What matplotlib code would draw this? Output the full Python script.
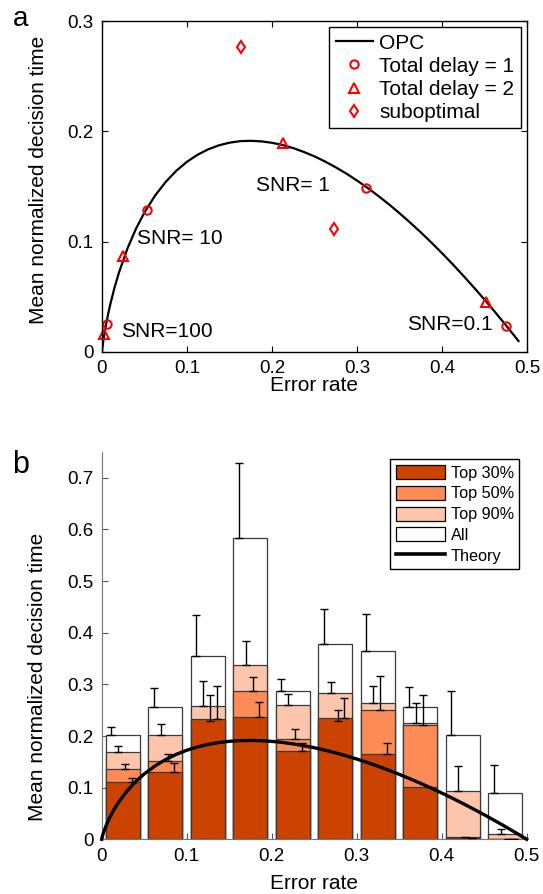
# Two-panel figure: optimal performance curve (a) and binned decision times (b).
import matplotlib
matplotlib.use("Agg")
import matplotlib.pyplot as plt
import numpy as np
from matplotlib.patches import Patch
from matplotlib.lines import Line2D

plt.rcParams["font.family"] = ["Liberation Sans", "DejaVu Sans"]

# Optimal performance curve.
opc_er = [0.0, 0.0005, 0.001, 0.002, 0.003, 0.005, 0.0075, 0.01, 0.015, 0.02, 0.03, 0.04,
          0.05, 0.0625, 0.075, 0.0875, 0.1, 0.1125, 0.125, 0.1375, 0.15, 0.1625, 0.175,
          0.1875, 0.2, 0.2125, 0.225, 0.2375, 0.25, 0.2625, 0.275, 0.2875, 0.3, 0.3125,
          0.325, 0.3375, 0.35, 0.3625, 0.375, 0.3875, 0.4, 0.4125, 0.425, 0.4375, 0.45,
          0.4625, 0.475, 0.485, 0.49]
opc_dt = [0.0, 0.0038, 0.0069, 0.0123, 0.0171, 0.0258, 0.0353, 0.0439, 0.059, 0.072,
          0.0939, 0.1117, 0.1265, 0.1418, 0.1542, 0.1643, 0.1724, 0.1788, 0.1837, 0.1873,
          0.1897, 0.1911, 0.1914, 0.1909, 0.1896, 0.1876, 0.1848, 0.1813, 0.1773, 0.1726,
          0.1674, 0.1617, 0.1554, 0.1487, 0.1415, 0.1339, 0.1258, 0.1173, 0.1085, 0.0992,
          0.0896, 0.0796, 0.0692, 0.0585, 0.0475, 0.0361, 0.0244, 0.0148, 0.0099]

# Panel a points.
delay1_er = [0.0055, 0.0524, 0.311, 0.4757]
delay1_dt = [0.0254, 0.129, 0.149, 0.0233]
delay2_er = [0.0023, 0.025, 0.2125, 0.452]
delay2_dt = [0.016, 0.087, 0.189, 0.0456]
subopt_er = [0.163, 0.273]
subopt_dt = [0.276, 0.1115]

snr_labels = ["SNR=100", "SNR= 10", "SNR= 1", "SNR=0.1"]
snr_x = [0.022, 0.041, 0.1815, 0.3584]
snr_y = [0.019, 0.103, 0.1508, 0.0245]

# Panel b bins.
bin_centers = [0.025, 0.075, 0.125, 0.175, 0.225, 0.275, 0.325, 0.375, 0.425, 0.475]
dt_all = [0.201, 0.256, 0.354, 0.5825, 0.2866, 0.379, 0.365, 0.2556, 0.202, 0.0893]
dt_top90 = [0.170, 0.201, 0.258, 0.337, 0.260, 0.2828, 0.2633, 0.2258, 0.0938, 0.0097]
dt_top50 = [0.136, 0.1507, 0.229, 0.2866, 0.194, 0.229, 0.251, 0.2213, 0.004, 0.001]
dt_top30 = [0.1107, 0.130, 0.232, 0.2361, 0.1715, 0.2355, 0.165, 0.101, 0.003, 0.0005]
err_all = [0.0157, 0.0375, 0.0796, 0.1463, 0.0234, 0.0676, 0.0705, 0.0395, 0.0846, 0.0537]
err_top90 = [0.011, 0.023, 0.048, 0.0475, 0.0208, 0.0212, 0.033, 0.0375, 0.0479, 0.0097]
err_top50 = [0.010, 0.0149, 0.050, 0.028, 0.0196, 0.021, 0.0655, 0.0587, np.nan, np.nan]
err_top30 = [0.0083, 0.0187, 0.064, 0.0292, 0.0149, 0.0383, 0.0207, np.nan, np.nan, np.nan]

theory_er = opc_er + [0.495, 0.5]
theory_dt = opc_dt + [0.005, 0.0]

red = "#ff0000"
col_top30 = "#cc4200"
col_top50 = "#fd8b55"
col_top90 = "#fdc5ab"

xticks = [0, 0.1, 0.2, 0.3, 0.4, 0.5]
xtick_labels = ["0", "0.1", "0.2", "0.3", "0.4", "0.5"]


def draw_panel_a(ax) -> None:
    ax.plot(opc_er, opc_dt, color="black", lw=1.6, label="OPC")
    ax.plot(delay1_er, delay1_dt, "o", mfc="none", mec=red, mew=1.5, ms=6,
            label="Total delay = 1", clip_on=False)
    ax.plot(delay2_er, delay2_dt, "^", mfc="none", mec=red, mew=1.5, ms=6.5,
            label="Total delay = 2", clip_on=False)
    ax.plot(subopt_er, subopt_dt, "d", mfc="none", mec=red, mew=1.5, ms=6,
            label="suboptimal")
    for lab, x, y in zip(snr_labels, snr_x, snr_y):
        ax.text(x, y, lab, fontsize=15, va="center", ha="left")
    ax.set_xlim(0, 0.5)
    ax.set_ylim(0, 0.3)
    ax.set_xticks(xticks)
    ax.set_xticklabels(xtick_labels)
    ax.set_yticks([0, 0.1, 0.2, 0.3])
    ax.set_yticklabels(["0", "0.1", "0.2", "0.3"])
    ax.tick_params(direction="in", top=True, right=True, labelsize=13.5, length=4, pad=6)
    for s in ax.spines.values():
        s.set_linewidth(1.0)
    ax.set_xlabel("Error rate", fontsize=15)
    ax.set_ylabel("Mean normalized decision time", fontsize=15)
    ax.xaxis.set_label_coords(0.5, -0.072)
    ax.yaxis.set_label_coords(-0.128, 0.52)
    leg = ax.legend(loc="upper right", fontsize=15, fancybox=False, framealpha=1,
                    edgecolor="black", borderpad=0.3, labelspacing=0.2,
                    handlelength=1.8, handletextpad=0.3, borderaxespad=0.3)
    leg.get_frame().set_linewidth(1.0)


def draw_panel_b(ax) -> None:
    width = 0.04
    layers = [(dt_all, "white"), (dt_top90, col_top90), (dt_top50, col_top50), (dt_top30, col_top30)]
    for vals, col in layers:
        ax.bar(bin_centers, vals, width=width, color=col, edgecolor="#3a3a3a", lw=0.9, zorder=2)
    offsets = [-0.0135, -0.0055, 0.0025, 0.0105]
    errs = [(dt_all, err_all), (dt_top90, err_top90), (dt_top50, err_top50), (dt_top30, err_top30)]
    for off, (vals, err) in zip(offsets, errs):
        xs = np.array(bin_centers) + off
        e = np.array(err)
        ax.errorbar(xs, vals, yerr=[np.zeros_like(e), e], fmt="none", ecolor="black",
                    elinewidth=1.0, capsize=3.2, capthick=1.0, zorder=3)
    ax.plot(theory_er, theory_dt, color="black", lw=2.4, zorder=4, clip_on=False)
    ax.set_xlim(0, 0.5)
    ax.set_ylim(0, 0.75)
    ax.set_xticks(xticks)
    ax.set_xticklabels(xtick_labels)
    ax.set_yticks([0, 0.1, 0.2, 0.3, 0.4, 0.5, 0.6, 0.7])
    ax.set_yticklabels(["0", "0.1", "0.2", "0.3", "0.4", "0.5", "0.6", "0.7"])
    ax.tick_params(direction="in", labelsize=13.5, length=4, pad=6, color="#555555")
    ax.spines["top"].set_visible(False)
    ax.spines["right"].set_visible(False)
    ax.spines["left"].set_color("#777777")
    ax.spines["bottom"].set_color("#777777")
    ax.set_xlabel("Error rate", fontsize=15)
    ax.set_ylabel("Mean normalized decision time", fontsize=15)
    ax.xaxis.set_label_coords(0.5, -0.09)
    ax.yaxis.set_label_coords(-0.128, 0.42)
    handles = [Patch(facecolor=col_top30, edgecolor="black", lw=0.9),
               Patch(facecolor=col_top50, edgecolor="black", lw=0.9),
               Patch(facecolor=col_top90, edgecolor="black", lw=0.9),
               Patch(facecolor="white", edgecolor="black", lw=0.9),
               Line2D([], [], color="black", lw=2.6)]
    labels = ["Top 30%", "Top 50%", "Top 90%", "All", "Theory"]
    leg = ax.legend(handles, labels, loc="upper right", fontsize=11.7, fancybox=False,
                    framealpha=1, edgecolor="black", borderpad=0.35, labelspacing=0.32,
                    handlelength=3.0, handleheight=0.95, handletextpad=0.35,
                    borderaxespad=0.45)
    leg.get_frame().set_linewidth(1.0)


def main() -> None:
    fig = plt.figure(figsize=(5.43, 8.94), dpi=100)
    ax_a = fig.add_axes([0.1878, 0.6063, 0.7827, 0.3702])
    ax_b = fig.add_axes([0.1873, 0.0612, 0.7827, 0.4332])
    draw_panel_a(ax_a)
    draw_panel_b(ax_b)
    fig.text(0.037, 0.979, "a", fontsize=20, ha="center", va="center")
    fig.text(0.037, 0.48, "b", fontsize=22, ha="center", va="center")
    fig.savefig("out.png", dpi=100)


if __name__ == "__main__":
    main()
